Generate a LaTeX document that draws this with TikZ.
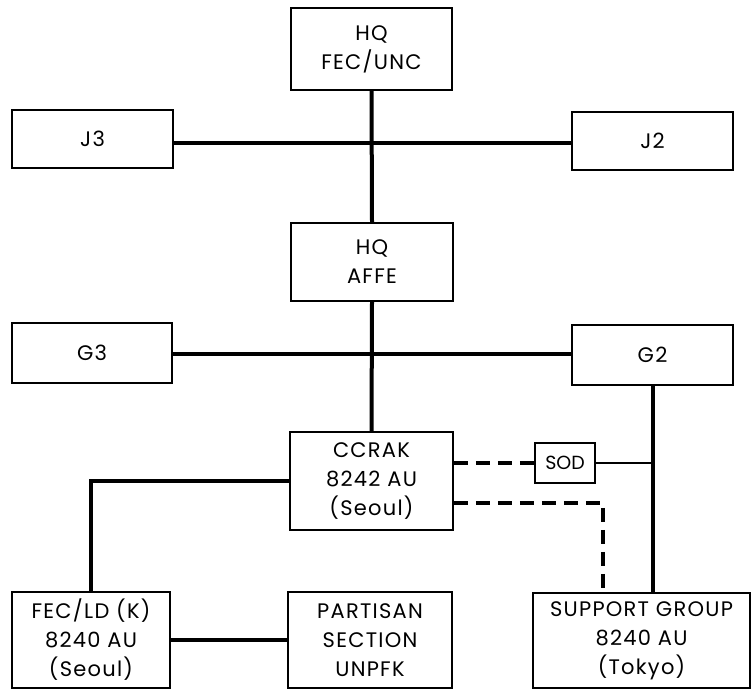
\documentclass[tikz,border=0pt]{standalone}
\usepackage{fontspec}
\setmainfont[LetterSpace=6]{Poppins}
\usetikzlibrary{calc}
\begin{document}
\begin{tikzpicture}[x=1pt,y=-1pt,
  box/.style={draw=black, line width=1.8pt, align=center, inner sep=0pt,
    font=\fontsize{21}{29}\selectfont},
  conn/.style={line width=4pt},
  thin conn/.style={line width=2.6pt},
  dconn/.style={line width=4pt, dash pattern=on 14pt off 8pt}]
\useasboundingbox (0,0) rectangle (751,691);
\node[box, minimum width=161pt, minimum height=82pt] (fec) at (371.5,49) {HQ\\FEC/UNC};
\node[box, minimum width=161pt, minimum height=58pt] (j3) at (92.5,139) {J3};
\node[box, minimum width=161pt, minimum height=58pt] (j2) at (652.5,141) {J2};
\node[box, minimum width=162pt, minimum height=78pt] (affe) at (372,262) {HQ\\AFFE};
\node[box, minimum width=160pt, minimum height=60pt] (g3) at (92,353) {G3};
\node[box, minimum width=161pt, minimum height=60pt] (g2) at (652.5,355) {G2};
\node[box, minimum width=163pt, minimum height=98pt] (ccrak) at (371.5,481) {CCRAK\\8242 AU\\(Seoul)};
\node[box, minimum width=60pt, minimum height=40pt, font=\fontsize{19}{24}\selectfont\addfontfeatures{LetterSpace=0}] (sod) at (565,463) {SOD};
\node[box, minimum width=158pt, minimum height=96pt] (fecld) at (91,640) {FEC/LD (K)\\8240 AU\\(Seoul)};
\node[box, minimum width=164pt, minimum height=96pt] (part) at (370,640) {PARTISAN\\SECTION\\UNPFK};
\node[box, minimum width=217pt, minimum height=95pt] (sup) at (641.5,640.5) {SUPPORT GROUP\\8240 AU\\(Tokyo)};
\coordinate (jl) at (372,143);
\coordinate (gl) at (372,354);
\coordinate (dk) at (603,503);
% connectors
\draw[conn] (fec.south) -- (affe.north);
\draw[conn] (j3.east |- jl) -- (j2.west |- jl);
\draw[conn] (affe.south) -- (ccrak.north);
\draw[conn] (g3.east |- gl) -- (g2.west |- gl);
\draw[conn] (ccrak.west) -- (ccrak.west -| fecld.north) -- (fecld.north);
\draw[conn] (fecld.east) -- (part.west);
\draw[dconn] (sod.west -| ccrak.east) -- (sod.west);
\draw[thin conn] (sod.east) -- (sod.east -| g2.south);
\draw[conn] (g2.south) -- (g2.south |- sup.north);
\draw[dconn] (ccrak.east |- dk) -- (dk) -- (dk |- sup.north);
\end{tikzpicture}
\end{document}
